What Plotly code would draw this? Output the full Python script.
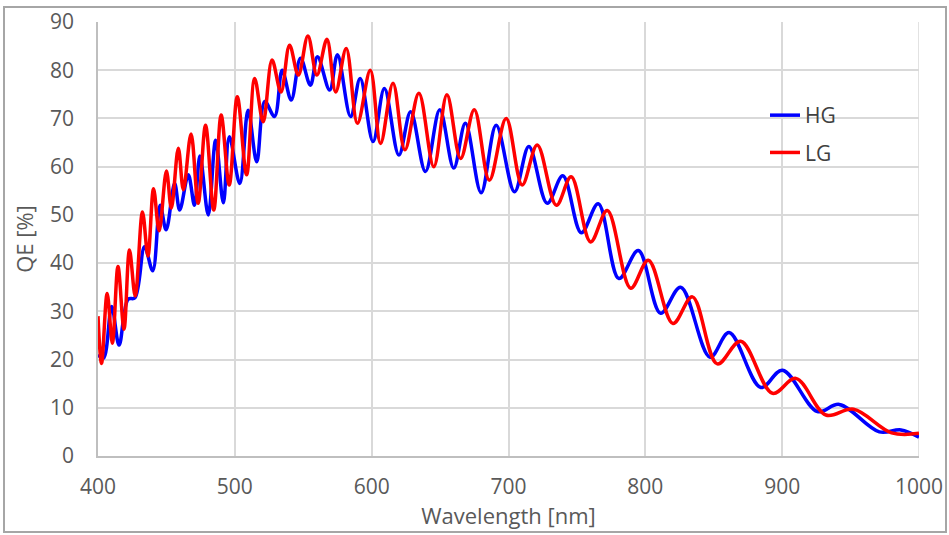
import plotly.graph_objects as go

# Quantum efficiency curves (turning points of the fringe pattern), wavelength in nm, QE in %
hg_wavelength = [400, 404, 410, 415.4, 422, 427, 434, 440, 445.4, 449.8, 456, 459.7, 466, 470.5,
                 474.5, 480.6, 486, 491.6, 496, 503.6, 509.7, 516, 521.9, 529, 534.6, 541.2, 548,
                 555.2, 560.4, 569.3, 575, 584.6, 591.6, 601, 609.3, 619.9, 628.5, 639.3, 649.8,
                 660, 668.5, 680, 691, 704.4, 714.9, 728.3, 739.7, 753.2, 765.6, 780.7, 794.9,
                 811.2, 825.8, 847.3, 861.2, 884.4, 900.2, 925.8, 941.7, 971, 986.8, 1000]
hg_qe = [21, 20.3, 31, 23, 32.5, 32.8, 43.4, 38.4, 52, 46.9, 56.5, 51, 58.3, 52,
         62.2, 50, 65.5, 52.5, 66.2, 56.5, 71.7, 61, 73.5, 70.4, 80, 73.8, 82.5,
         76.9, 82.8, 75.9, 83.2, 70.4, 78.3, 65.2, 76.2, 62.4, 71.4, 59, 71.8,
         59.7, 69, 54.6, 68.6, 54.8, 64.2, 52.4, 58.1, 46.3, 52.3, 36.8, 42.6,
         29.6, 35, 20.5, 25.6, 14.2, 17.8, 9.2, 10.7, 5, 5.4, 3.9]

lg_wavelength = [400, 402.6, 406.7, 410.5, 414.6, 419, 423, 427.2, 432.5, 436.5, 440.6, 444.7,
                 450, 453.6, 458.7, 462.4, 468, 473.2, 478.6, 484.6, 490, 495.9, 501.8, 508.6,
                 514.5, 520.7, 527.2, 533.7, 540, 546.4, 553.4, 560, 567.3, 573.7, 581.4, 589.6,
                 599, 606.5, 615.6, 624.3, 634.5, 645.4, 655, 665, 675, 686, 698.3, 710, 721,
                 735, 745.8, 760, 772.2, 789.3, 802.2, 820.2, 834.4, 852.6, 869.7, 892.9, 910,
                 932, 952.2, 980, 1000]
lg_qe = [29, 19.2, 33.7, 23.4, 39.3, 26.3, 42.7, 33.2, 50.6, 41.5, 55.4, 46.7,
         59.1, 51.4, 63.8, 55.2, 66.8, 52.4, 68.6, 51, 70.7, 56.2, 74.5, 58.3,
         78.3, 69.3, 82.1, 75.5, 85.2, 79, 87.1, 79, 86.4, 75.5, 84.5, 69,
         80, 64.8, 77.3, 63.5, 75.2, 60, 74.9, 61.7, 71.8, 57.2, 70, 56.2, 64.5,
         52, 57.9, 44.4, 50.9, 34.8, 40.6, 27.5, 33, 19.1, 23.8, 13, 16.1,
         8.5, 9.7, 4.8, 4.7]

x_ticks = [400, 500, 600, 700, 800, 900, 1000]
y_ticks = [0, 10, 20, 30, 40, 50, 60, 70, 80, 90]

FONT = "Open Sans"
TEXT_COLOR = "#595959"
GRID = "#d9d9d9"

fig = go.Figure()
fig.add_trace(go.Scatter(
    x=hg_wavelength, y=hg_qe, name="HG", mode="lines", legendgroup="hg",
    line=dict(color="#0000ff", width=3.5, shape="spline", smoothing=1.0),
))
fig.add_trace(go.Scatter(
    x=lg_wavelength, y=lg_qe, name="LG", mode="lines", legendgroup="lg",
    line=dict(color="#ff0000", width=3.5, shape="spline", smoothing=1.0),
))

W, H = 949, 535
ML, MR, MT, MB = 98, 30, 22, 79
pw, ph = W - ML - MR, H - MT - MB


def px_to_paper_x(px):
    return (px - ML) / pw


def px_to_paper_y(py):
    return (H - MB - py) / ph


# outer frame around the whole chart
fig.add_shape(type="rect", xref="paper", yref="paper",
              x0=px_to_paper_x(4), x1=px_to_paper_x(946),
              y0=px_to_paper_y(532), y1=px_to_paper_y(7),
              line=dict(color="#a6a6a6", width=2), fillcolor="rgba(0,0,0,0)", layer="below")

fig.update_layout(
    width=W, height=H,
    margin=dict(l=ML, r=MR, t=MT, b=MB, pad=0),
    paper_bgcolor="white", plot_bgcolor="white",
    font=dict(family=FONT, size=21, color=TEXT_COLOR),
    showlegend=True,
    legend=dict(
        x=px_to_paper_x(765), y=px_to_paper_y(95), xanchor="left", yanchor="top",
        bgcolor="rgba(0,0,0,0)", font=dict(size=21, color="#404040"),
        traceorder="grouped", tracegroupgap=7,
    ),
    xaxis=dict(
        range=[400, 1000], tickvals=x_ticks, ticktext=[str(v) for v in x_ticks],
        tickfont=dict(size=21), automargin=False,
        showgrid=True, gridcolor=GRID, gridwidth=1.5,
        showline=True, linecolor="#bfbfbf", linewidth=1.5, mirror=False,
        zeroline=False, ticks="", ticklabelstandoff=11,
        title=dict(text="Wavelength [nm]", standoff=8, font=dict(size=22, color=TEXT_COLOR)),
    ),
    yaxis=dict(
        range=[0, 90], tickvals=y_ticks, ticktext=[str(v) for v in y_ticks],
        tickfont=dict(size=21), automargin=False,
        showgrid=True, gridcolor=GRID, gridwidth=1.5,
        showline=True, linecolor="#bfbfbf", linewidth=1.5,
        zeroline=False, ticks="", ticklabelstandoff=18,
        title=dict(text="QE [%]", standoff=10, font=dict(size=22, color=TEXT_COLOR)),
    ),
)
# right edge gridline at 1000 nm
fig.add_shape(type="line", xref="x", yref="paper", x0=1000, x1=1000, y0=0, y1=1,
              line=dict(color=GRID, width=1.5), layer="below")

fig.write_html("out.html")
